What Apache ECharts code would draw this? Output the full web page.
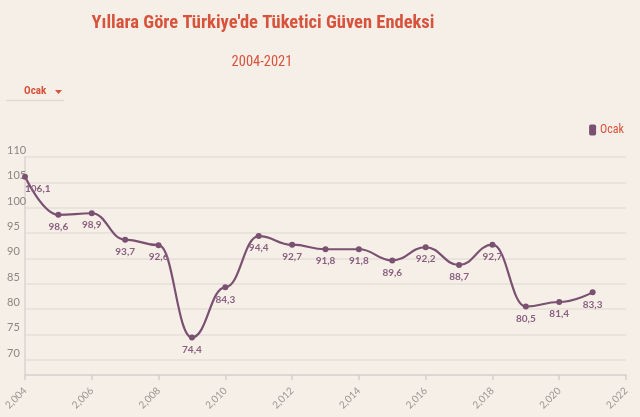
<!DOCTYPE html>
<html>
<head>
  <meta charset="utf-8">
  <title>Tüketici Güven Endeksi</title>
  <script src="https://cdn.jsdelivr.net/npm/echarts@6/dist/echarts.min.js"></script>
  <style>
    html, body { margin: 0; padding: 0; background: #f5efe8; }
    #chart { width: 640px; height: 417px; }
  </style>
</head>
<body>
  <div id="chart"></div>
  <script type="text/javascript">
      // yıllar ve Ocak ayı endeks değerleri
      var years = [2004, 2005, 2006, 2007, 2008, 2009, 2010, 2011, 2012,
                   2013, 2014, 2015, 2016, 2017, 2018, 2019, 2020, 2021];
      var ocak = [106.1, 98.6, 98.9, 93.7, 92.6, 74.4, 84.3, 94.4, 92.7,
                  91.8, 91.8, 89.6, 92.2, 88.7, 92.7, 80.5, 81.4, 83.3];
      var yTicks = [70, 75, 80, 85, 90, 95, 100, 105, 110];

      var red = '#d8533c';
      var purple = '#7b5171';
      var condensed = '"Roboto Condensed", "DejaVu Sans Condensed", "Liberation Sans Narrow", Roboto';

      var points = [];
      for (var i = 0; i < years.length; i++) {
          var item = { value: [years[i], ocak[i]] };
          // ilk nokta etiketi eksenin sağına kayıyor
          if (i === 0) item.label = { align: 'left' };
          points.push(item);
      }

      var myChart = echarts.init(document.getElementById('chart'));
      myChart.setOption({
          backgroundColor: '#f5efe8',
          textStyle: { fontFamily: 'Lato' },
          title: [
              {
                  text: "Yıllara Göre Türkiye'de Tüketici Güven Endeksi",
                  left: 258,
                  textAlign: 'center',
                  top: 9,
                  textStyle: {
                      fontFamily: condensed,
                      fontWeight: 'bold',
                      fontSize: 18.5,
                      color: red
                  }
              },
              {
                  text: '2004-2021',
                  left: 257,
                  textAlign: 'center',
                  top: 50,
                  textStyle: {
                      fontFamily: condensed,
                      fontWeight: 'normal',
                      fontSize: 14.5,
                      color: red
                  }
              }
          ],
          legend: {
              right: 11,
              top: 119,
              icon: 'roundRect',
              itemWidth: 7,
              itemHeight: 11,
              itemGap: 4,
              textStyle: { color: red, fontSize: 12, fontFamily: condensed, padding: [0, 0, 0, -1] },
              data: ['Ocak']
          },
          graphic: [
              {
                  type: 'text',
                  left: 24,
                  top: 86,
                  style: { text: 'Ocak', fill: red, fontWeight: 'bold', fontSize: 11, fontFamily: condensed }
              },
              {
                  type: 'polygon',
                  shape: { points: [[55, 90], [62, 90], [58.5, 94]] },
                  style: { fill: red }
              },
              {
                  type: 'line',
                  shape: { x1: 6, y1: 100.5, x2: 64, y2: 100.5 },
                  style: { stroke: '#e2d9cf', lineWidth: 1.5 }
              }
          ],
          grid: {
              left: 25,
              right: 14,
              top: 157,
              bottom: 42
          },
          xAxis: {
              type: 'value',
              min: 2004,
              max: 2022,
              interval: 2,
              axisLine: { show: true, lineStyle: { color: '#d3cfca', width: 1.5 } },
              axisTick: { show: true, length: 5, lineStyle: { color: '#d3cfca', width: 1.5 } },
              splitLine: { show: false },
              axisLabel: {
                  rotate: 45,
                  color: '#9a9693',
                  fontSize: 10,
                  margin: 14
              }
          },
          yAxis: {
              type: 'value',
              min: 67,
              max: 110,
              axisLine: { show: true, lineStyle: { color: '#d8d4cf', width: 1.5 } },
              axisTick: { show: false, customValues: yTicks },
              splitLine: { show: true, lineStyle: { color: '#e4dfd9', width: 1.5 } },
              axisLabel: {
                  customValues: yTicks,
                  align: 'left',
                  verticalAlign: 'bottom',
                  margin: 18,
                  color: '#8a8683',
                  fontSize: 11,
                  padding: [0, 0, 1, 0]
              }
          },
          series: [
              {
                  name: 'Ocak',
                  type: 'line',
                  data: points,
                  smooth: 0.45,
                  smoothMonotone: 'x',
                  symbol: 'circle',
                  symbolSize: 6,
                  itemStyle: { color: purple },
                  lineStyle: { color: purple, width: 2.2 },
                  label: {
                      show: true,
                      position: 'bottom',
                      distance: 4,
                      color: '#8a5f7f',
                      fontWeight: 'bold',
                      fontSize: 10,
                      fontFamily: 'Lato',
                      formatter: function (p) {
                          return p.value[1].toFixed(1).replace('.', ',');
                      }
                  }
              }
          ]
      });
  </script>
</body>
</html>
